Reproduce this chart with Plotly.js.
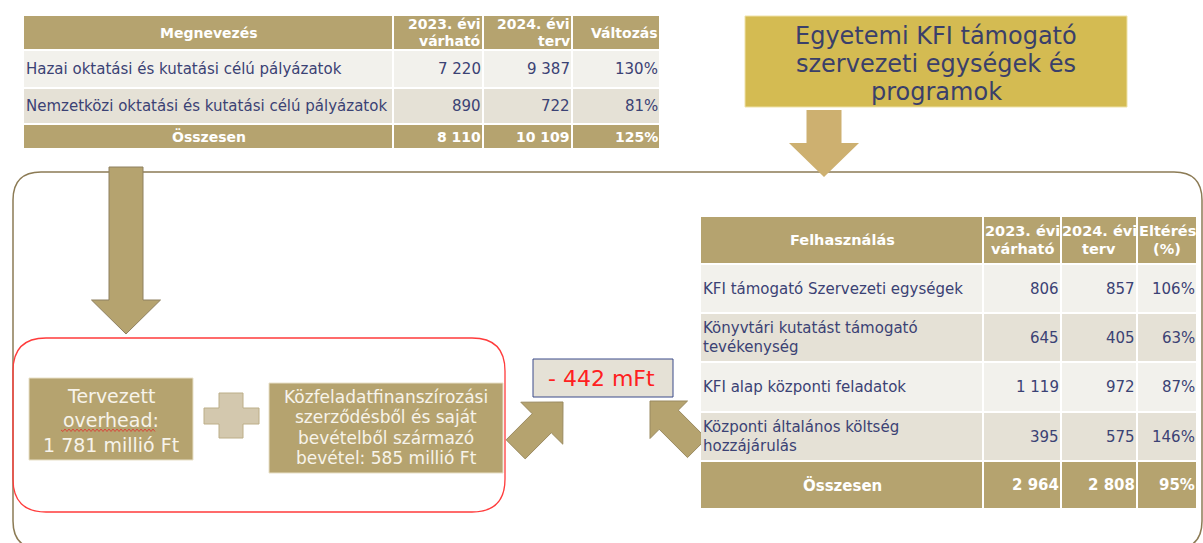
<!DOCTYPE html>
<html>
<head>
<meta charset="utf-8">
<script src="https://cdn.plot.ly/plotly-3.0.1.min.js"></script>
<style>html,body{margin:0;padding:0;background:#fff;}#chart{width:1203px;height:543px;}</style>
</head>
<body>
<div id="chart"></div>
<script>
// ---------- DATA ----------
const topHeaders = ['Megnevezés', '2023. évi<br>várható', '2024. évi<br>terv', 'Változás'];
const topCategories = ['Hazai oktatási és kutatási célú pályázatok', 'Nemzetközi oktatási és kutatási célú pályázatok'];
const top2023 = [7220, 890];
const top2024 = [9387, 722];
const topChange = [130, 81];
const topTotalLabel = 'Összesen';
const topTotals = [8110, 10109, 125];

const useHeaders = ['Felhasználás', '2023. évi<br>várható', '2024. évi<br>terv', 'Eltérés<br>(%)'];
const useCategories = ['KFI támogató Szervezeti egységek', 'Könyvtári kutatást támogató<br>tevékenység', 'KFI alap központi feladatok', 'Központi általános költség<br>hozzájárulás'];
const use2023 = [806, 645, 1119, 395];
const use2024 = [857, 405, 972, 575];
const useDiff = [106, 63, 87, 146];
const useTotalLabel = 'Összesen';
const useTotals = [2964, 2808, 95];

const titleBoxText = 'Egyetemi KFI támogató<br>szervezeti egységek és<br>programok';
const overheadValue = 1781;
const ownRevenueValue = 585;
const gapValue = -442;

// ---------- STYLE / LAYOUT GEOMETRY ----------
const FONT = "'DejaVu Sans', 'Open Sans', sans-serif";
const NAVY = '#3b4274';
const TAN = '#b5a36f';
const LIGHT = '#f2f1ec';
const DARK = '#e5e1d6';

const fmt = n => String(n).replace(/\B(?=(\d{3})+(?!\d))/g, ' ');
const pct = n => n + '%';

const shapes = [];
const annotations = [];

function rect(x0, y0, x1, y1, fill, line) {
  shapes.push({type: 'rect', xref: 'x', yref: 'y', x0, y0, x1, y1, fillcolor: fill,
    line: line || {width: 0}, layer: 'above'});
}
function pathShape(d, fill, line) {
  shapes.push({type: 'path', xref: 'x', yref: 'y', path: d, fillcolor: fill || 'rgba(0,0,0,0)',
    line: line || {width: 0}, layer: 'above'});
}
function text(x, y, t, opts) {
  opts = opts || {};
  const lines = String(t).split('<br>');
  const sp = opts.spacing || (opts.size || 14) * 1.25;
  lines.forEach((ln, i) => {
    annotations.push({xref: 'x', yref: 'y', x, y: y + (i - (lines.length - 1) / 2) * sp, text: ln, showarrow: false,
      xanchor: opts.xanchor || 'center', yanchor: 'middle', align: opts.align || 'center',
      font: {family: FONT, size: opts.size || 14, color: opts.color || NAVY, weight: opts.bold ? 700 : 400},
      borderpad: 0});
  });
}
function roundRect(x0, y0, x1, y1, r) {
  return `M${x0 + r},${y0} L${x1 - r},${y0} Q${x1},${y0} ${x1},${y0 + r} L${x1},${y1 - r} Q${x1},${y1} ${x1 - r},${y1} ` +
         `L${x0 + r},${y1} Q${x0},${y1} ${x0},${y1 - r} L${x0},${y0 + r} Q${x0},${y0} ${x0 + r},${y0} Z`;
}
function blockArrow(tx, ty, dx, dy, headLen, headHalf, shaftHalf, shaftLen) {
  const n = Math.hypot(dx, dy); dx /= n; dy /= n;
  const px = -dy, py = dx;
  const bx = tx - dx * headLen, by = ty - dy * headLen;
  const ex = bx - dx * shaftLen, ey = by - dy * shaftLen;
  const P = (x, y) => `${x.toFixed(1)},${y.toFixed(1)}`;
  return `M${P(tx, ty)} L${P(bx + px * headHalf, by + py * headHalf)} L${P(bx + px * shaftHalf, by + py * shaftHalf)} ` +
         `L${P(ex + px * shaftHalf, ey + py * shaftHalf)} L${P(ex - px * shaftHalf, ey - py * shaftHalf)} ` +
         `L${P(bx - px * shaftHalf, by - py * shaftHalf)} L${P(bx - px * headHalf, by - py * headHalf)} Z`;
}

// big outline frame
pathShape(roundRect(13, 172, 1202, 549, 28), null, {color: '#8c7b55', width: 1.5});

// arrows
pathShape(blockArrow(126, 334, 0, 1, 34, 34.5, 17, 133), TAN, {color: '#8e8060', width: 1});
pathShape(blockArrow(824, 177, 0, 1, 34, 35, 17.5, 33), '#cdb070', {width: 0});
pathShape(blockArrow(563, 402, 1, -1, 30, 29.7, 13.5, 37), TAN, {color: '#9a8a60', width: 1});
pathShape(blockArrow(650, 401, -1, -1, 26.5, 26.5, 13.5, 40), TAN, {color: '#9a8a60', width: 1});

// ---------- TOP TABLE ----------
const tCols = [24, 393, 483, 572, 660];
const tRows = [15, 50, 88, 124, 149];
const g = 1;
function tableRow(cols, y0, y1, fill) {
  for (let c = 0; c < cols.length - 1; c++) rect(cols[c] + (c ? g : 0), y0 + g, cols[c + 1] - g, y1 - g, fill);
}
tableRow(tCols, tRows[0], tRows[1], TAN);
text((tCols[0] + tCols[1]) / 2, (tRows[0] + tRows[1]) / 2, topHeaders[0], {color: '#fff', bold: true, size: 14});
for (let c = 1; c < 4; c++) {
  text(tCols[c + 1] - 1, (tRows[0] + tRows[1]) / 2, topHeaders[c], {color: '#fff', bold: true, size: 14, xanchor: 'right', align: 'right', spacing: 17});
}
for (let r = 0; r < topCategories.length; r++) {
  const y0 = tRows[r + 1], y1 = tRows[r + 2], ym = (y0 + y1) / 2;
  tableRow(tCols, y0, y1, r % 2 ? DARK : LIGHT);
  text(tCols[0] + 1, ym, topCategories[r], {xanchor: 'left', align: 'left', size: 15});
  text(tCols[2] - 1, ym, fmt(top2023[r]), {xanchor: 'right', size: 15});
  text(tCols[3] - 1, ym, fmt(top2024[r]), {xanchor: 'right', size: 15});
  text(tCols[4] - 1, ym, pct(topChange[r]), {xanchor: 'right', size: 15});
}
tableRow(tCols, tRows[3], tRows[4], TAN);
{
  const ym = (tRows[3] + tRows[4]) / 2;
  text((tCols[0] + tCols[1]) / 2, ym, topTotalLabel, {color: '#fff', bold: true, size: 14});
  text(tCols[2] - 1, ym, fmt(topTotals[0]), {color: '#fff', bold: true, size: 14, xanchor: 'right'});
  text(tCols[3] - 1, ym, fmt(topTotals[1]), {color: '#fff', bold: true, size: 14, xanchor: 'right'});
  text(tCols[4] - 1, ym, pct(topTotals[2]), {color: '#fff', bold: true, size: 14, xanchor: 'right'});
}

// ---------- TITLE BOX ----------
rect(745, 16, 1127, 107, '#d4bb52', {color: '#efe2a8', width: 1});
text(936, 64, titleBoxText, {size: 24, color: '#3a3f6a', spacing: 28});

// ---------- RIGHT TABLE ----------
const rCols = [701, 983, 1061, 1137, 1197];
const rRows = [216, 264, 313, 362, 412, 461, 509];
tableRow(rCols, rRows[0], rRows[1], TAN);
for (let c = 0; c < 4; c++) {
  text((rCols[c] + rCols[c + 1]) / 2, (rRows[0] + rRows[1]) / 2, useHeaders[c], {color: '#fff', bold: true, size: 14.5, spacing: 18});
}
for (let r = 0; r < useCategories.length; r++) {
  const y0 = rRows[r + 1], y1 = rRows[r + 2], ym = (y0 + y1) / 2;
  tableRow(rCols, y0, y1, r % 2 ? DARK : LIGHT);
  text(rCols[0] + 1, ym, useCategories[r], {xanchor: 'left', align: 'left', size: 15, spacing: 19});
  text(rCols[2] - 1, ym, fmt(use2023[r]), {xanchor: 'right', size: 15});
  text(rCols[3] - 1, ym, fmt(use2024[r]), {xanchor: 'right', size: 15});
  text(rCols[4] - 1, ym, pct(useDiff[r]), {xanchor: 'right', size: 15});
}
tableRow(rCols, rRows[5], rRows[6], TAN);
{
  const ym = (rRows[5] + rRows[6]) / 2;
  text((rCols[0] + rCols[1]) / 2, ym, useTotalLabel, {color: '#fff', bold: true, size: 15});
  text(rCols[2] - 1, ym, fmt(useTotals[0]), {color: '#fff', bold: true, size: 15, xanchor: 'right'});
  text(rCols[3] - 1, ym, fmt(useTotals[1]), {color: '#fff', bold: true, size: 15, xanchor: 'right'});
  text(rCols[4] - 1, ym, pct(useTotals[2]), {color: '#fff', bold: true, size: 15, xanchor: 'right'});
}

// ---------- RED GROUP ----------
pathShape(roundRect(13, 338, 505, 512, 33), null, {color: '#ff3b3b', width: 1.3});
rect(29, 378, 193, 460, TAN, {color: '#e8e0c8', width: 1});
text(111, 420, 'Tervezett<br>overhead:<br>' + fmt(overheadValue) + ' millió Ft', {color: '#f7f3ea', size: 19, spacing: 24.5});
// spell-check wavy underline under "overhead"
{
  let d = 'M61,430';
  for (let x = 63, k = 1; x <= 155; x += 2, k++) d += ` L${x},${k % 2 ? 431.5 : 429}`;
  pathShape(d, null, {color: '#e03030', width: 0.8});
}
// plus sign
pathShape('M219,393 L243,393 L243,408 L259,408 L259,424 L243,424 L243,438 L219,438 L219,424 L204,424 L204,408 L219,408 Z',
  '#d3c8ae', {color: '#bcae88', width: 1});
rect(269, 383, 503, 473, TAN, {color: '#e8e0c8', width: 1});
text(386, 427.5, 'Közfeladatfinanszírozási<br>szerződésből és saját<br>bevételből származó<br>bevétel: ' + ownRevenueValue + ' millió Ft', {color: '#f7f3ea', size: 17, spacing: 20.5});

// gap box
rect(533, 359, 673, 397, DARK, {color: '#3a4a8a', width: 1});
text(601, 378, '- ' + Math.abs(gapValue) + ' mFt', {color: '#ff2020', size: 22});

const layout = {
  width: 1203, height: 543,
  margin: {l: 0, r: 0, t: 0, b: 0, pad: 0},
  paper_bgcolor: '#ffffff', plot_bgcolor: '#ffffff',
  showlegend: false,
  xaxis: {range: [0, 1203], visible: false, fixedrange: true},
  yaxis: {range: [543, 0], visible: false, fixedrange: true},
  shapes, annotations
};
const data = [{type: 'scatter', x: [0], y: [0], mode: 'none', hoverinfo: 'skip', showlegend: false}];
Plotly.newPlot('chart', data, layout, {staticPlot: true, displayModeBar: false});
</script>
</body>
</html>
